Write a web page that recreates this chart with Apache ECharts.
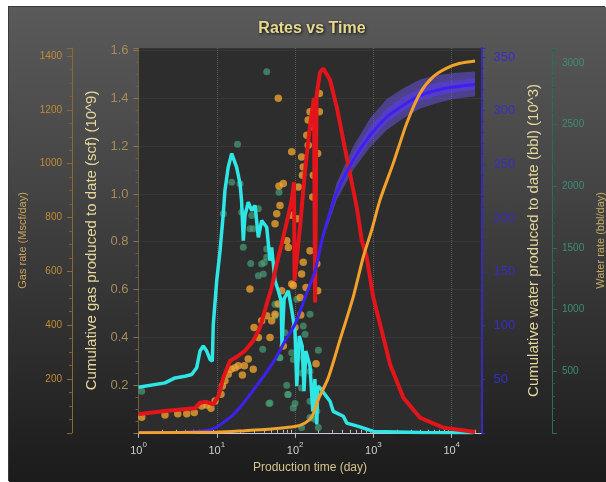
<!DOCTYPE html>
<html><head><meta charset="utf-8">
<script src="https://cdn.jsdelivr.net/npm/echarts@6/dist/echarts.min.js"></script>
<style>
html,body{margin:0;padding:0;background:#fff;width:606px;height:482px;overflow:hidden}
#c{position:absolute;left:9px;top:7px;width:597px;height:475px;background:linear-gradient(to bottom,#5a5a5a 0%,#464646 35%,#2f2f2f 70%,#1b1b1b 100%);box-shadow:-1px -1px 0 #3a3a3a}
</style></head><body><div id="c"></div>
<script>
const FONT = '"Liberation Sans", Arial, sans-serif';
const titleText = 'Rates vs Time';
const xName = 'Production time (day)';
const gasRateName = 'Gas rate (Mscf/day)';
const cumGasName = 'Cumulative gas produced to date (scf) (10^9)';
const cumWaterName = 'Cumulative water produced to date (bbl) (10^3)';
const waterRateName = 'Water rate (bbl/day)';

// Gas rate measured points (orange dots): day, Mscf/day
const gasDotDays  = [1.10,2.18,3.17,4.13,5.16,6.41,7.43,8.43,9.48,11.3,11.8,12.7,14.0,15.2,17.1,18.8,21.2,22.5,25.2,29.2,26.5,29.9,33.9,37.4,43.4,47.8,50.2,55.4,61.0,67.4,78.1,81.9,90.5,99.7,116,121,127,138,155,189,194,185,61.0,90.5,70.7,62.3,64.1,58.2,55.4,121,127,124,110,141,147,155,204,163,171,168,194,204,147,90.5,105,94.8,118,70.7];
const gasDotRates = [58,66,71,71,75,100,103,91,118,143,174,193,218,236,242,249,215,249,274,236,534,391,354,416,435,354,416,441,479,528,714,689,553,391,503,590,634,540,677,628,528,257,1243,1044,926,917,845,814,777,1025,988,957,913,1106,1069,1193,1193,1137,957,876,1038,1261,1162,808,795,547,438,323];

// Water rate measured points (green dots): day, bbl/day
const waterDotDays  = [1.10,43.4,18.4,15.5,19.8,20.8,12.1,26.5,29.2,33.9,27.9,62.3,21.8,27.1,33.9,39.2,43.4,37.4,40.4,43.4,38.6,62.8,78.1,80.4,46.4,99.7,55.4,55.4,105,155,127,134,74.3,64.1,90.5,94.8,127,198,121,155,81.9,121,94.8,155,163,121,198,189,47.8,155,180];
const waterDotRates = [337,2929,2340,2033,2020,1789,1776,1654,1654,1817,1762,1952,1504,1374,1274,1287,1423,1369,1382,1491,677,608,386,310,237,237,1043,948,1084,962,866,799,812,608,649,595,608,669,486,500,310,364,201,256,120,44,44,174,242,125,107];

// Gas rate line (red)
const gasLineDays  = [1,1.1,2.18,5.27,6.1,7.4,9.0,10.5,12.1,14.7,18.8,22.9,29.2,35.6,43.4,50.2,58.2,67.4,78.1,90.5,96.8,98.3,116,134,155,174,180,188,208,229,279,340,413,502,612,710,821,997,1277,1630,2410,3940,7810,19850];
const gasLineRates = [70,71,81,91,112,115,106,137,205,267,286,305,342,391,479,540,628,702,782,864,931,565,770,975,1143,1244,484,1255,1340,1354,1311,1211,1087,963,839,715,652,503,379,255,130,56,19,3];

// Water rate line (cyan)
const waterLineDays  = [1,2.18,2.93,3.93,4.78,5.53,6.10,6.72,7.43,8.19,8.76,9.02,9.97,11.0,12.1,12.7,14.0,15.5,17.9,19.8,20.7,21.8,22.9,25.2,27.9,30.8,33.9,37.4,43.4,47.8,50.2,55.4,61.0,66.2,68.0,72.3,81.9,91.0,99.7,105,113,123,130,137,155,168,179,189,195,208,279,307,413,456,641,997,3940,18700];
const waterLineRates = [370,405,445,459,473,527,663,704,663,595,581,880,1233,1477,1776,1966,2155,2265,2155,2020,1884,1559,1762,1870,1803,1844,1585,1721,1667,1396,1504,1233,1152,1071,704,1087,1152,989,826,378,785,704,337,663,541,174,435,68,378,364,256,174,134,79,52,11,2,0.5];

// Cumulative gas (orange line), 10^9 scf
const cumGasDays   = [1,10.4,22.9,45.3,99.7,134,163,196,265,374,554,743,951,1214,1795,2663,3940,5820,8630,12760,19850];
const cumGasValues = [0,0.003,0.009,0.015,0.026,0.041,0.066,0.137,0.23,0.389,0.570,0.737,0.849,0.975,1.129,1.296,1.422,1.491,1.527,1.547,1.557];

// Cumulative water (blue line), 10^3 bbl
const cumWaterDays   = [1,3.39,6.4,9.5,12.7,17.1,22.9,30.8,41.2,55.4,74.3,99.7,134,180,221,270,340,554,905,1479,2410,3940,6430,10500,19850];
const cumWaterValues = [0.2,0.5,1.4,4.5,10.7,18.5,29.4,41.9,54.4,68.4,85.5,101.1,126,151,180,202,224,254,277,294,305,314,319,322,324.5];

// Cumulative water uncertainty band
const bandDays      = [221,340,554,905,1479,2410,3940,6430,10500,19850];
const bandOuterLow  = [177,217,245,266,282,293,302,307,311,313.5];
const bandOuterHigh = [183,233,267,293,311,321,329,333,335,336.5];
const bandInnerLow  = [178.5,221,250,272,289,300,309,314,317,319.5];
const bandInnerHigh = [181.5,228,260,285,302,313,321,326,328,330.5];

const pairs = (xs, ys) => xs.map((x, i) => [x, ys[i]]);

const X_MIN = 1, X_MAX = 24000;
const xMinor = [];
for (let k = 0; k <= 4; k++) for (let m = 2; m <= 9; m++) { const v = m * Math.pow(10, k); if (v < X_MAX) xMinor.push(v); }

const chart = echarts.init(document.getElementById('c'), null, {renderer: 'canvas'});

function yAxisBase(o) {
  return Object.assign({
    type: 'value', min: 0, gridIndex: 0, nameLocation: 'middle', nameRotate: 90,
    splitLine: {show: false}
  }, o);
}

function bandSeries(lo, hi, fill) {
  return {
    type: 'custom', xAxisIndex: 0, yAxisIndex: 2, silent: true, z: 3, clip: true,
    data: bandDays.map((d, i) => [d, lo[i], hi[i]]),
    encode: {x: 0, y: [1, 2]},
    renderItem: function (params, api) {
      if (params.dataIndex !== 0) return null;
      const pts = [];
      for (let i = 0; i < bandDays.length; i++) pts.push(api.coord([bandDays[i], hi[i]]));
      for (let i = bandDays.length - 1; i >= 0; i--) pts.push(api.coord([bandDays[i], lo[i]]));
      return {type: 'polygon', shape: {points: pts}, style: {fill: fill}};
    }
  };
}

const plain = v => String(v);

const option = {
  animation: false,
  textStyle: {fontFamily: FONT},
  title: {
    text: titleText, left: 298, top: 9, textAlign: 'center',
    textStyle: {color: '#e8d88e', fontSize: 16, fontWeight: 'bold', fontFamily: FONT,
      textShadowColor: 'rgba(0,0,0,0.85)', textShadowBlur: 3, textShadowOffsetX: 1, textShadowOffsetY: 1}
  },
  grid: {left: 129.5, right: 124.5, top: 41, bottom: 49.2, show: true, backgroundColor: '#2d2d2d', borderWidth: 0, containLabel: false, outerBoundsMode: 'none'},
  xAxis: [
    {
      type: 'log', logBase: 10, min: X_MIN, max: X_MAX, position: 'bottom', gridIndex: 0,
      name: xName, nameLocation: 'middle', nameGap: 28,
      nameTextStyle: {color: '#d6c38e', fontSize: 12, fontFamily: FONT},
      axisLine: {show: true, lineStyle: {color: '#cfc8dc', width: 1}},
      axisTick: {show: true, length: 5, lineStyle: {color: '#bdbdbd'}},
      minorTick: {show: false},
      axisLabel: {
        margin: 8, showMaxLabel: false,
        formatter: v => '{b|10}{s|' + Math.round(Math.log10(v)) + '}',
        rich: {
          b: {fontSize: 11, color: '#cfcfcf', lineHeight: 16, verticalAlign: 'bottom', fontFamily: FONT},
          s: {fontSize: 8, color: '#cfcfcf', verticalAlign: 'top', fontFamily: FONT}
        }
      },
      splitLine: {show: true, lineStyle: {color: 'rgba(210,210,210,0.28)', type: 'dotted', width: 1}}
    },
    {
      type: 'log', logBase: 10, min: X_MIN, max: X_MAX, position: 'bottom', gridIndex: 0,
      axisLine: {show: false}, axisLabel: {show: false}, splitLine: {show: false},
      axisTick: {show: true, inside: true, length: 3, customValues: xMinor, lineStyle: {color: '#bdbdbd'}}
    }
  ],
  yAxis: [
    yAxisBase({
      position: 'left', offset: 0, max: 1.611, interval: 0.2,
      name: cumGasName, nameGap: 38,
      nameTextStyle: {color: '#e6d79c', fontSize: 15, fontFamily: FONT},
      axisLine: {show: true, onZero: false, lineStyle: {color: '#6e5c3c'}},
      axisTick: {show: true, length: 5, lineStyle: {color: '#8a7550'}},
      minorTick: {show: true, splitNumber: 4, length: 3, lineStyle: {color: '#6e5c3c'}},
      axisLabel: {color: '#a68c58', fontSize: 13, margin: 10, showMinLabel: false, showMaxLabel: false, formatter: v => v.toFixed(1)},
      splitLine: {show: true, lineStyle: {color: 'rgba(255,255,255,0.05)'}}
    }),
    yAxisBase({
      position: 'left', offset: 66.5, max: 1430, interval: 200,
      name: gasRateName, nameGap: 30,
      nameTextStyle: {color: '#c9a262', fontSize: 11, fontFamily: FONT},
      axisLine: {show: true, onZero: false, lineStyle: {color: '#8a6a32'}},
      axisTick: {show: true, length: 5, lineStyle: {color: '#8a6a32'}},
      minorTick: {show: true, splitNumber: 4, length: 3, lineStyle: {color: '#7a5e2e'}},
      axisLabel: {color: '#c08c36', fontSize: 10, margin: 10, showMinLabel: false, showMaxLabel: false, formatter: plain}
    }),
    yAxisBase({
      position: 'right', offset: 0, max: 358.4, interval: 50,
      name: cumWaterName, nameGap: 35,
      nameTextStyle: {color: '#e3d69a', fontSize: 15, fontFamily: FONT},
      axisLine: {show: true, onZero: false, lineStyle: {color: '#3a2ab8', width: 2}},
      axisTick: {show: true, length: 4, lineStyle: {color: '#3a2ab8'}},
      minorTick: {show: true, splitNumber: 5, length: 2, lineStyle: {color: '#33269a'}},
      axisLabel: {color: '#3a2cc8', fontSize: 13, margin: 12, showMinLabel: false, showMaxLabel: false, formatter: plain}
    }),
    yAxisBase({
      position: 'right', offset: 70.5, max: 3121, interval: 500,
      name: waterRateName, nameGap: 32,
      nameTextStyle: {color: '#c9ab68', fontSize: 11, fontFamily: FONT},
      axisLine: {show: true, onZero: false, lineStyle: {color: '#2f6b5c'}},
      axisTick: {show: true, length: 5, lineStyle: {color: '#2f6b5c'}},
      minorTick: {show: true, splitNumber: 5, length: 3, lineStyle: {color: '#2a5d50'}},
      axisLabel: {color: '#3e8c77', fontSize: 10, margin: 10, showMinLabel: false, showMaxLabel: false, formatter: plain}
    })
  ],
  series: [
    bandSeries(bandOuterLow, bandOuterHigh, 'rgba(110,85,240,0.5)'),
    bandSeries(bandInnerLow, bandInnerHigh, 'rgba(95,60,255,0.45)'),
    {name: 'Water rate data', type: 'scatter', xAxisIndex: 0, yAxisIndex: 3, data: pairs(waterDotDays, waterDotRates),
      symbolSize: 7, itemStyle: {color: 'rgba(72,160,122,0.85)'}, z: 4},
    {name: 'Gas rate data', type: 'scatter', xAxisIndex: 0, yAxisIndex: 1, data: pairs(gasDotDays, gasDotRates),
      symbolSize: 7.5, itemStyle: {color: 'rgba(244,166,48,0.95)'}, z: 4},
    {name: 'Water rate', type: 'line', xAxisIndex: 0, yAxisIndex: 3, data: pairs(waterLineDays, waterLineRates),
      showSymbol: false, lineStyle: {color: '#2ee6e6', width: 3.5}, z: 5},
    {name: 'Gas rate', type: 'line', xAxisIndex: 0, yAxisIndex: 1, data: pairs(gasLineDays, gasLineRates),
      showSymbol: false, lineStyle: {color: '#e3151a', width: 4}, z: 6},
    {name: 'Cumulative water', type: 'line', xAxisIndex: 0, yAxisIndex: 2, data: pairs(cumWaterDays, cumWaterValues),
      showSymbol: false, smooth: 0.25, lineStyle: {color: '#3d20f2', width: 3}, z: 7},
    {name: 'Cumulative gas', type: 'line', xAxisIndex: 0, yAxisIndex: 0, data: pairs(cumGasDays, cumGasValues),
      showSymbol: false, smooth: 0.25, lineStyle: {color: '#f2a22a', width: 3}, z: 8}
  ]
};
chart.setOption(option);
</script></body></html>
